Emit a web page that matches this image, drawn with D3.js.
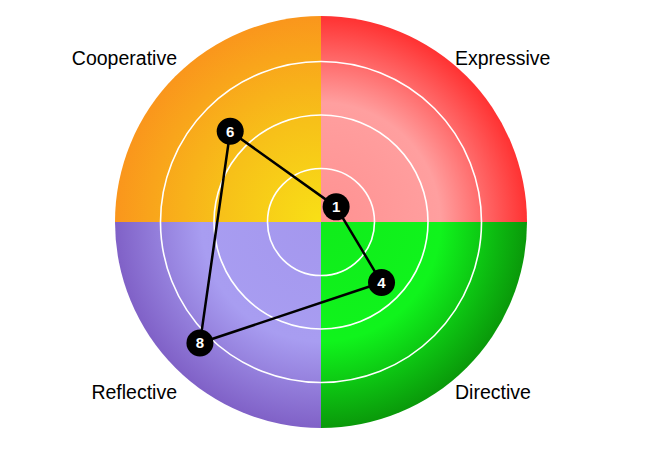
<!DOCTYPE html>
<html>
<head>
<meta charset="utf-8">
<script src="https://cdnjs.cloudflare.com/ajax/libs/d3/7.8.5/d3.min.js"></script>
<style>
  body { margin: 0; background: #fff; }
  svg { display: block; font-family: "Liberation Sans", Arial, Helvetica, sans-serif; }
</style>
</head>
<body>
<div id="chart"></div>
<script>
(function() {

  "use strict";

  // quadrant names, clockwise from the upper right
  var quadrants = [ "Expressive", "Directive", "Reflective", "Cooperative" ];
  // score per quadrant
  var scores = [ 1, 4, 8, 6 ];
  // guide ring values
  var ringValues = [ 2.5, 5, 7.5 ];
  var maxScore = 10;

  // colours per quadrant: inner, middle, outer
  var quadColors = [
    [ "#ff9191", "#ff9f9f", "#ff3232" ],
    [ "#10ec1b", "#10f41c", "#0a990a" ],
    [ "#a497ee", "#a89df1", "#8061c7" ],
    [ "#f8e016", "#f7c019", "#fa961c" ]
  ];

  /* * * * * * * * * * * * * * * * * * * */

  var w = 650,
    h = 450,
    cx = 321,
    cy = 222,
    outerR = 206;

  var svg = d3.select( "#chart" ).append( "svg" )
    .attr( "width", w )
    .attr( "height", h );

  var r = d3.scaleLinear()
    .domain( [ 0, maxScore ] )
    .range( [ 0, 214 ] );

  var defs = svg.append( "defs" );

  // gradients live in the translated group's space, so centre at 0,0
  quadColors.forEach(function( c, i ) {
    var g = defs.append( "radialGradient" )
      .attr( "id", "grad" + i )
      .attr( "gradientUnits", "userSpaceOnUse" )
      .attr( "cx", 0 )
      .attr( "cy", 0 )
      .attr( "r", outerR );
    g.append( "stop" ).attr( "offset", "0%" ).attr( "stop-color", c[0] );
    g.append( "stop" ).attr( "offset", i === 3 ? "50%" : "58%" ).attr( "stop-color", c[1] );
    g.append( "stop" ).attr( "offset", "100%" ).attr( "stop-color", c[2] );
  });

  var root = svg.append( "g" )
    .attr( "transform", "translate(" + cx + "," + cy + ")" );

  /* * * * * * * * * * * * * * * * * * * */

  var arc = d3.arc()
    .innerRadius( 0 )
    .outerRadius( outerR );

  root.selectAll( "path.quad" )
    .data( quadrants )
    .enter()
    .append( "path" )
    .attr( "class", "quad" )
    .attr( "d", function( d, i ) {
      return arc({ startAngle: i * Math.PI / 2, endAngle: ( i + 1 ) * Math.PI / 2 });
    })
    .attr( "fill", function( d, i ) { return "url(#grad" + i + ")"; } );

  root.selectAll( "circle.ring" )
    .data( ringValues )
    .enter()
    .append( "circle" )
    .attr( "class", "ring" )
    .attr( "r", function( d ) { return r( d ); } )
    .attr( "fill", "none" )
    .attr( "stroke", "#fff" )
    .attr( "stroke-width", 1.6 );

  /* * * * * * * * * * * * * * * * * * * */

  // each score sits on its quadrant's diagonal
  function angle( i ) {
    return Math.PI / 4 + i * Math.PI / 2;
  }

  var line = d3.lineRadial()
    .angle(function( d, i ) { return angle( i ); })
    .radius(function( d ) { return r( d ); })
    .curve( d3.curveLinearClosed );

  root.append( "path" )
    .datum( scores )
    .attr( "d", line )
    .attr( "fill", "none" )
    .attr( "stroke", "#000" )
    .attr( "stroke-width", 2.5 )
    .attr( "stroke-linejoin", "round" );

  var dots = root.selectAll( "g.dot" )
    .data( scores )
    .enter()
    .append( "g" )
    .attr( "class", "dot" )
    .attr( "transform", function( d, i ) {
      var a = angle( i );
      return "translate(" + ( Math.sin( a ) * r( d ) ) + "," + ( -Math.cos( a ) * r( d ) ) + ")";
    });

  dots.append( "circle" )
    .attr( "r", 13.5 )
    .attr( "fill", "#000" );

  dots.append( "text" )
    .attr( "text-anchor", "middle" )
    .attr( "dy", "0.36em" )
    .attr( "fill", "#fff" )
    .attr( "font-size", 15 )
    .attr( "font-weight", "bold" )
    .text(function( d ) { return d; });

  /* * * * * * * * * * * * * * * * * * * */

  // quadrant titles outside the disc
  var labelPos = [
    { x: 134, y: -157, anchor: "start" },
    { x: 134, y: 177, anchor: "start" },
    { x: -144, y: 177, anchor: "end" },
    { x: -144, y: -157, anchor: "end" }
  ];

  root.selectAll( "text.label" )
    .data( quadrants )
    .enter()
    .append( "text" )
    .attr( "class", "label" )
    .attr( "x", function( d, i ) { return labelPos[i].x; } )
    .attr( "y", function( d, i ) { return labelPos[i].y; } )
    .attr( "text-anchor", function( d, i ) { return labelPos[i].anchor; } )
    .attr( "font-size", 19.5 )
    .attr( "fill", "#000" )
    .text(function( d ) { return d; });

})();
</script>
</body>
</html>
